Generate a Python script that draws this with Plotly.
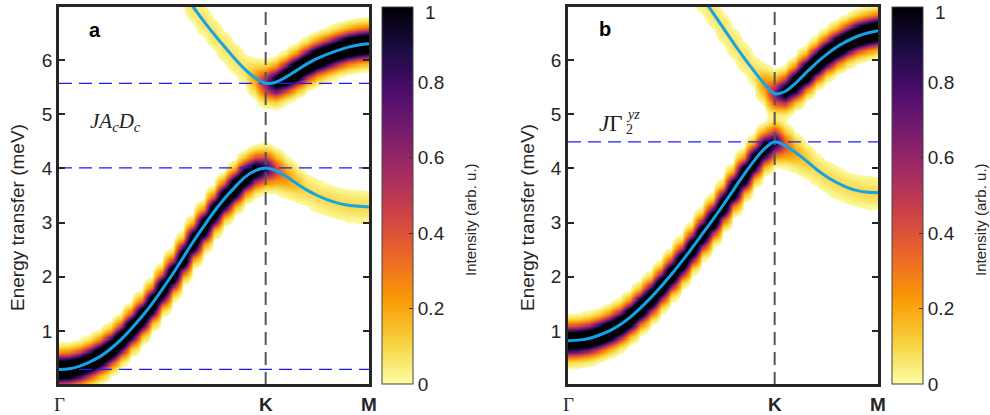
import numpy as np
import plotly.graph_objects as go

# ---------------- data ----------------
q_path = [0.0, 0.1, 0.2, 0.3, 0.4, 0.5, 0.6, 0.7, 0.8, 0.9, 1.0,
          1.1, 1.2, 1.3, 1.4, 1.5, 1.6, 1.7, 1.8, 1.9, 2.0,
          2.1, 2.2, 2.3, 2.4, 2.5, 2.6, 2.7, 2.8, 2.9, 3.0]
q_upper = q_path[12:]

sym_labels = ["Γ", "K", "M"]
sym_pos = [0.0, 2.0, 3.0]

# panel a (J A_c D_c)
lower_a = [0.29, 0.30, 0.35, 0.43, 0.53, 0.67, 0.84, 1.04, 1.26, 1.50, 1.77,
           2.05, 2.35, 2.65, 2.93, 3.20, 3.44, 3.65, 3.84, 3.96, 4.01,
           3.96, 3.85, 3.72, 3.60, 3.50, 3.42, 3.36, 3.32, 3.30, 3.29]
w_lower_a = [1.45] * 18 + [1.35, 1.15, 0.85, 0.45, 0.25, 0.15] + [0.09] * 7
upper_a = [7.25, 6.98, 6.72, 6.48, 6.25, 6.03, 5.83, 5.67, 5.57,
           5.59, 5.69, 5.81, 5.93, 6.03, 6.11, 6.18, 6.24, 6.28, 6.30]
w_upper_a = [0.08] * 7 + [0.22, 0.65, 1.1, 1.35] + [1.5] * 8
levels_a = [0.29, 4.01, 5.57]

# panel b (J Gamma_2^yz)
lower_b = [0.82, 0.83, 0.86, 0.92, 1.00, 1.11, 1.25, 1.42, 1.61, 1.82, 2.04,
           2.28, 2.53, 2.79, 3.05, 3.32, 3.60, 3.88, 4.14, 4.36, 4.49,
           4.42, 4.30, 4.15, 3.99, 3.85, 3.74, 3.65, 3.59, 3.56, 3.55]
w_lower_b = [1.45] * 18 + [1.35, 1.2, 0.9, 0.4, 0.2, 0.13] + [0.09] * 7
upper_b = [7.42, 7.15, 6.88, 6.60, 6.32, 6.05, 5.80, 5.56, 5.38,
           5.42, 5.57, 5.76, 5.94, 6.10, 6.24, 6.35, 6.44, 6.50, 6.54]
w_upper_b = [0.08] * 7 + [0.25, 0.65, 1.1, 1.35] + [1.5] * 8
levels_b = [4.49]

cbar_ticks = [0, 0.2, 0.4, 0.6, 0.8, 1]
cbar_ticktext = ["0", "0.2", "0.4", "0.6", "0.8", "1"]
y_ticks = [1, 2, 3, 4, 5, 6]

# ---------------- styling ----------------
W, H = 990, 415
SIGMA = 0.175
THRESH = 0.02
AX = "#262626"
BLUE_LINE = "#14a2e8"
DASH_BLUE = "#1c1cff"
DASH_GRAY = "#555555"
SANS = "Liberation Sans"
SERIF = "Liberation Serif"

inferno = ['#000004', '#1b0c41', '#4a0c6b', '#781c6d', '#a52c60',
           '#cf4446', '#ed6925', '#fb9b06', '#f7d13d', '#fcffa4']
inferno_r = inferno[::-1]
cs_bar = [[i / 9, c] for i, c in enumerate(inferno_r)]
cs_map = [[0, "#ffffff"], [THRESH - 1e-4, "#ffffff"], [THRESH, "#fcfb9c"]] + \
         [[i / 9, c] for i, c in enumerate(inferno_r) if i > 0]

e_grid = np.arange(0.0, 7.0001, 0.02)


def spectrum(lower, wl, upper, wu):
    z = np.zeros((len(e_grid), len(q_path)))
    off = len(q_path) - len(upper)
    for i in range(len(q_path)):
        z[:, i] += wl[i] * np.exp(-(e_grid - lower[i]) ** 2 / (2 * SIGMA ** 2))
        if i >= off:
            j = i - off
            z[:, i] += wu[j] * np.exp(-(e_grid - upper[j]) ** 2 / (2 * SIGMA ** 2))
    return z


def px(x):
    return x / W


def py(y):
    return 1 - y / H


panels = [
    dict(xa="x", ya="y", lower=lower_a, wl=w_lower_a, upper=upper_a, wu=w_upper_a,
         levels=levels_a, cbx=382, ylab=17, cbt=470),
    dict(xa="x2", ya="y2", lower=lower_b, wl=w_lower_b, upper=upper_b, wu=w_upper_b,
         levels=levels_b, cbx=892, ylab=527, cbt=980),
]

fig = go.Figure()
for p in panels:
    z = spectrum(p["lower"], p["wl"], p["upper"], p["wu"])
    fig.add_trace(go.Heatmap(x=q_path, y=e_grid, z=z, colorscale=cs_map, zmin=0, zmax=1,
                             zsmooth="best", showscale=False, hoverinfo="skip",
                             xaxis=p["xa"], yaxis=p["ya"]))
    for lv in p["levels"]:
        fig.add_trace(go.Scatter(x=[sym_pos[0], sym_pos[-1]], y=[lv, lv], mode="lines",
                                 line=dict(color=DASH_BLUE, width=1.1, dash="13px,7px"),
                                 showlegend=False, hoverinfo="skip",
                                 xaxis=p["xa"], yaxis=p["ya"]))
    fig.add_trace(go.Scatter(x=[sym_pos[1], sym_pos[1]], y=[0, 7.2], mode="lines",
                             line=dict(color=DASH_GRAY, width=2, dash="13px,7px"),
                             showlegend=False, hoverinfo="skip",
                             xaxis=p["xa"], yaxis=p["ya"]))
    fig.add_trace(go.Scatter(x=q_path, y=p["lower"], mode="lines",
                             line=dict(color=BLUE_LINE, width=3, shape="spline", smoothing=1),
                             showlegend=False, hoverinfo="skip",
                             xaxis=p["xa"], yaxis=p["ya"]))
    fig.add_trace(go.Scatter(x=q_upper, y=p["upper"], mode="lines",
                             line=dict(color=BLUE_LINE, width=3, shape="spline", smoothing=1),
                             showlegend=False, hoverinfo="skip",
                             xaxis=p["xa"], yaxis=p["ya"]))
    fig.add_trace(go.Scatter(x=[1.0], y=[-5], mode="markers",
                             marker=dict(color=[0], colorscale=cs_bar, cmin=0, cmax=1, size=1,
                                         showscale=True,
                                         colorbar=dict(x=px(p["cbx"]), xanchor="left", xpad=0,
                                                       y=py(384), yanchor="bottom", ypad=0,
                                                       len=377, lenmode="pixels",
                                                       thickness=31, outlinewidth=1,
                                                       outlinecolor="#444444",
                                                       ticks="inside", ticklen=4,
                                                       tickcolor="#333333",
                                                       tickvals=cbar_ticks[:-1],
                                                       ticktext=cbar_ticktext[:-1],
                                                       ticklabeloverflow="allow",
                                                       tickfont=dict(size=19, color=AX, family=SANS))),
                             showlegend=False, hoverinfo="skip",
                             xaxis=p["xa"], yaxis=p["ya"]))

common_x = dict(range=[sym_pos[0], sym_pos[-1]], showticklabels=False, ticks="",
                showline=True, mirror=True, linecolor=AX, linewidth=2.5,
                showgrid=False, zeroline=False)
common_y = dict(range=[0.02, 6.98], tickvals=y_ticks, ticks="inside", ticklen=6,
                tickwidth=2, tickcolor=AX, mirror="ticks", showline=True, linecolor=AX,
                linewidth=2.5, showgrid=False, zeroline=False,
                tickfont=dict(size=19, color=AX, family=SANS))

fig.update_layout(
    width=W, height=H, margin=dict(l=0, r=0, t=0, b=0),
    paper_bgcolor="white", plot_bgcolor="white", showlegend=False,
    xaxis=dict(domain=[px(59), px(369)], anchor="y", **common_x),
    yaxis=dict(domain=[py(384), py(7)], anchor="x", **common_y),
    xaxis2=dict(domain=[px(568), px(878)], anchor="y2", **common_x),
    yaxis2=dict(domain=[py(384), py(7)], anchor="x2", **common_y),
)

ann = []
for p in panels:
    ann.append(dict(x=px(p["ylab"]), y=py(218), xref="paper", yref="paper",
                    text="Energy transfer (meV)", textangle=-90, showarrow=False,
                    xanchor="center", yanchor="middle",
                    font=dict(size=19, color=AX, family=SANS)))
    ann.append(dict(x=px(p["cbt"]), y=py(220), xref="paper", yref="paper",
                    text="Intensity (arb. u.)", textangle=-90, showarrow=False,
                    xanchor="center", yanchor="middle",
                    font=dict(size=15, color=AX, family=SANS)))
    ann.append(dict(x=px(p["cbx"] + 41), y=py(12), xref="paper", yref="paper",
                    text=cbar_ticktext[-1], showarrow=False, xanchor="left", yanchor="middle",
                    font=dict(size=19, color=AX, family=SANS)))
    for lab, pos in zip(sym_labels, sym_pos):
        if lab == "Γ":
            txt, fam = lab, SERIF
        else:
            txt, fam = "<b>%s</b>" % lab, SANS
        ann.append(dict(x=pos, y=py(404), xref=p["xa"], yref="paper", text=txt,
                        showarrow=False, xanchor="center", yanchor="middle",
                        font=dict(size=19, color=AX, family=fam)))

ann.append(dict(x=px(95), y=py(30), xref="paper", yref="paper", text="<b>a</b>",
                showarrow=False, xanchor="center", yanchor="middle",
                font=dict(size=20, color="black", family=SANS)))
ann.append(dict(x=px(605), y=py(29), xref="paper", yref="paper", text="<b>b</b>",
                showarrow=False, xanchor="center", yanchor="middle",
                font=dict(size=20, color="black", family=SANS)))
ann.append(dict(x=px(88), y=py(122), xref="paper", yref="paper", xanchor="left",
                yanchor="middle",
                text="<i>JA</i><sub><i>c</i></sub><i>D</i><sub><i>c</i></sub>",
                showarrow=False, font=dict(size=21, color="#222222", family=SERIF)))
ann.append(dict(x=px(597), y=py(123), xref="paper", yref="paper", xanchor="left",
                yanchor="middle", text="<i>J</i>Γ", showarrow=False,
                font=dict(size=23, color="#222222", family=SERIF)))
ann.append(dict(x=px(624), y=py(114), xref="paper", yref="paper", xanchor="left",
                yanchor="middle", text="<i>yz</i>", showarrow=False,
                font=dict(size=14, color="#222222", family=SERIF)))
ann.append(dict(x=px(624), y=py(129), xref="paper", yref="paper", xanchor="left",
                yanchor="middle", text="2", showarrow=False,
                font=dict(size=14, color="#222222", family=SERIF)))

fig.update_layout(annotations=ann)
fig.write_html("out.html", config={"displayModeBar": False},
               post_script="document.body.style.margin='0px';")
